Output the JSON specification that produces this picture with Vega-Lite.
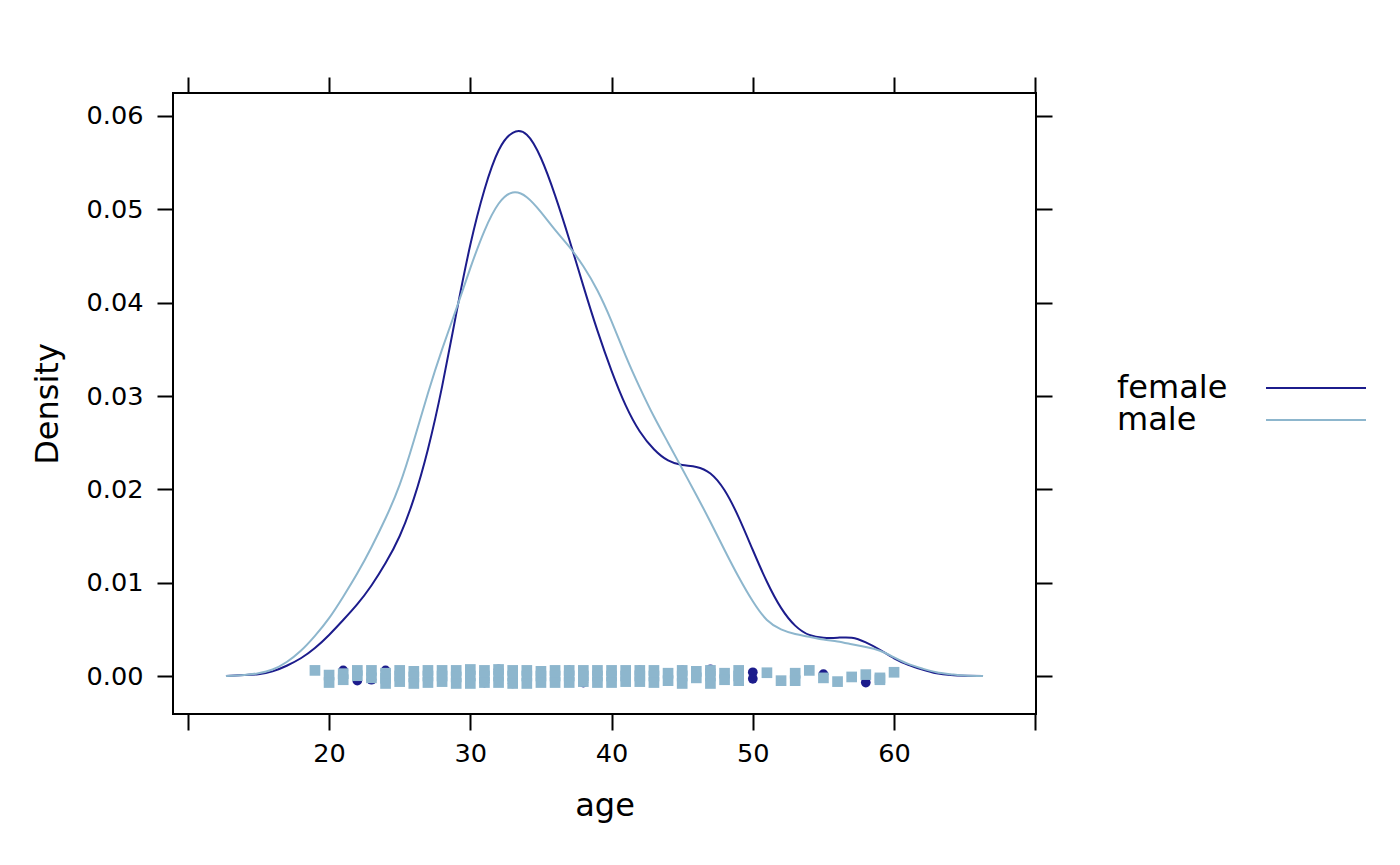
{
  "$schema": "https://vega.github.io/schema/vega-lite/v6.json",
  "width": 863,
  "height": 621,
  "autosize": {"type": "none"},
  "padding": {"left": 173, "top": 93, "right": 364, "bottom": 151},
  "background": "white",
  "config": {
    "font": "DejaVu Sans",
    "view": {"stroke": "black", "strokeWidth": 2},
    "axis": {
      "grid": false, "domain": false, "tickColor": "black", "tickWidth": 2, "tickSize": 16,
      "labelFont": "DejaVu Sans", "labelFontSize": 25.6, "labelColor": "black",
      "titleFont": "DejaVu Sans", "titleFontSize": 32, "titleFontWeight": "normal", "titleColor": "black"
    }
  },
  "datasets": {
    "density": [
      {"sex": "female", "age": 12.7, "density": 0},
      {"sex": "female", "age": 14, "density": 0.0001},
      {"sex": "female", "age": 15, "density": 0.0002},
      {"sex": "female", "age": 16, "density": 0.0005},
      {"sex": "female", "age": 17, "density": 0.0011},
      {"sex": "female", "age": 18, "density": 0.0019},
      {"sex": "female", "age": 19, "density": 0.003},
      {"sex": "female", "age": 20, "density": 0.0044},
      {"sex": "female", "age": 21, "density": 0.006},
      {"sex": "female", "age": 22, "density": 0.0077},
      {"sex": "female", "age": 23, "density": 0.0097},
      {"sex": "female", "age": 24, "density": 0.0121},
      {"sex": "female", "age": 25, "density": 0.015},
      {"sex": "female", "age": 26, "density": 0.019},
      {"sex": "female", "age": 27, "density": 0.0243},
      {"sex": "female", "age": 28, "density": 0.031},
      {"sex": "female", "age": 29, "density": 0.0388},
      {"sex": "female", "age": 30, "density": 0.0462},
      {"sex": "female", "age": 31, "density": 0.0521},
      {"sex": "female", "age": 32, "density": 0.0563},
      {"sex": "female", "age": 33, "density": 0.0582},
      {"sex": "female", "age": 34, "density": 0.058},
      {"sex": "female", "age": 35, "density": 0.0555},
      {"sex": "female", "age": 36, "density": 0.0515},
      {"sex": "female", "age": 37, "density": 0.0468},
      {"sex": "female", "age": 38, "density": 0.0418},
      {"sex": "female", "age": 39, "density": 0.037},
      {"sex": "female", "age": 40, "density": 0.0327},
      {"sex": "female", "age": 41, "density": 0.029},
      {"sex": "female", "age": 42, "density": 0.0262},
      {"sex": "female", "age": 43, "density": 0.0243},
      {"sex": "female", "age": 44, "density": 0.0231},
      {"sex": "female", "age": 45, "density": 0.0226},
      {"sex": "female", "age": 46, "density": 0.0224},
      {"sex": "female", "age": 47, "density": 0.0217},
      {"sex": "female", "age": 48, "density": 0.0199},
      {"sex": "female", "age": 49, "density": 0.017},
      {"sex": "female", "age": 50, "density": 0.0135},
      {"sex": "female", "age": 51, "density": 0.0101},
      {"sex": "female", "age": 52, "density": 0.0073},
      {"sex": "female", "age": 53, "density": 0.0054},
      {"sex": "female", "age": 54, "density": 0.0044},
      {"sex": "female", "age": 55, "density": 0.0041},
      {"sex": "female", "age": 56, "density": 0.0041},
      {"sex": "female", "age": 57, "density": 0.0041},
      {"sex": "female", "age": 58, "density": 0.0036},
      {"sex": "female", "age": 59, "density": 0.0028},
      {"sex": "female", "age": 60, "density": 0.0019},
      {"sex": "female", "age": 61, "density": 0.0012},
      {"sex": "female", "age": 62, "density": 0.0007},
      {"sex": "female", "age": 63, "density": 0.0003},
      {"sex": "female", "age": 64, "density": 0.0001},
      {"sex": "female", "age": 65, "density": 0.00003},
      {"sex": "female", "age": 66.3, "density": 0},
      {"sex": "male", "age": 12.7, "density": 0},
      {"sex": "male", "age": 14, "density": 0.0001},
      {"sex": "male", "age": 15, "density": 0.0003},
      {"sex": "male", "age": 16, "density": 0.0007},
      {"sex": "male", "age": 17, "density": 0.0015},
      {"sex": "male", "age": 18, "density": 0.0027},
      {"sex": "male", "age": 19, "density": 0.0043},
      {"sex": "male", "age": 20, "density": 0.0062},
      {"sex": "male", "age": 21, "density": 0.0085},
      {"sex": "male", "age": 22, "density": 0.011},
      {"sex": "male", "age": 23, "density": 0.0138},
      {"sex": "male", "age": 24, "density": 0.0169},
      {"sex": "male", "age": 25, "density": 0.0205},
      {"sex": "male", "age": 26, "density": 0.0252},
      {"sex": "male", "age": 27, "density": 0.0303},
      {"sex": "male", "age": 28, "density": 0.035},
      {"sex": "male", "age": 29, "density": 0.0393},
      {"sex": "male", "age": 30, "density": 0.0437},
      {"sex": "male", "age": 31, "density": 0.0477},
      {"sex": "male", "age": 32, "density": 0.0506},
      {"sex": "male", "age": 33, "density": 0.0518},
      {"sex": "male", "age": 34, "density": 0.0513},
      {"sex": "male", "age": 35, "density": 0.0497},
      {"sex": "male", "age": 36, "density": 0.0478},
      {"sex": "male", "age": 37, "density": 0.046},
      {"sex": "male", "age": 38, "density": 0.0439},
      {"sex": "male", "age": 39, "density": 0.0413},
      {"sex": "male", "age": 40, "density": 0.038},
      {"sex": "male", "age": 41, "density": 0.0343},
      {"sex": "male", "age": 42, "density": 0.0309},
      {"sex": "male", "age": 43, "density": 0.0278},
      {"sex": "male", "age": 44, "density": 0.025},
      {"sex": "male", "age": 45, "density": 0.0222},
      {"sex": "male", "age": 46, "density": 0.0194},
      {"sex": "male", "age": 47, "density": 0.0165},
      {"sex": "male", "age": 48, "density": 0.0135},
      {"sex": "male", "age": 49, "density": 0.0106},
      {"sex": "male", "age": 50, "density": 0.008},
      {"sex": "male", "age": 51, "density": 0.006},
      {"sex": "male", "age": 52, "density": 0.005},
      {"sex": "male", "age": 53, "density": 0.0045},
      {"sex": "male", "age": 54, "density": 0.0042},
      {"sex": "male", "age": 55, "density": 0.0039},
      {"sex": "male", "age": 56, "density": 0.0037},
      {"sex": "male", "age": 57, "density": 0.0034},
      {"sex": "male", "age": 58, "density": 0.0031},
      {"sex": "male", "age": 59, "density": 0.0027},
      {"sex": "male", "age": 60, "density": 0.002},
      {"sex": "male", "age": 61, "density": 0.0013},
      {"sex": "male", "age": 62, "density": 0.0008},
      {"sex": "male", "age": 63, "density": 0.0004},
      {"sex": "male", "age": 64, "density": 0.0002},
      {"sex": "male", "age": 65, "density": 0.00005},
      {"sex": "male", "age": 66.3, "density": 0}
    ],
    "points": [
      {"sex": "female", "age": 21, "jitter": 0.0006},
      {"sex": "female", "age": 22, "jitter": -0.0005},
      {"sex": "female", "age": 23, "jitter": -0.0004},
      {"sex": "female", "age": 24, "jitter": 0.0006},
      {"sex": "female", "age": 31, "jitter": -0.0007},
      {"sex": "female", "age": 32, "jitter": 0.0007},
      {"sex": "female", "age": 33, "jitter": -0.0008},
      {"sex": "female", "age": 37, "jitter": 0.0006},
      {"sex": "female", "age": 38, "jitter": -0.0007},
      {"sex": "female", "age": 42, "jitter": 0.0006},
      {"sex": "female", "age": 45, "jitter": 0.0006},
      {"sex": "female", "age": 47, "jitter": 0.0007},
      {"sex": "female", "age": 50, "jitter": 0.0004},
      {"sex": "female", "age": 50, "jitter": -0.0003},
      {"sex": "female", "age": 55, "jitter": 0.0002},
      {"sex": "female", "age": 58, "jitter": -0.0007},
      {"sex": "male", "age": 19, "jitter": 0.0006},
      {"sex": "male", "age": 20, "jitter": 0.0001},
      {"sex": "male", "age": 20, "jitter": -0.0007},
      {"sex": "male", "age": 21, "jitter": 0.00025},
      {"sex": "male", "age": 21, "jitter": -0.0004},
      {"sex": "male", "age": 22, "jitter": 0.0006},
      {"sex": "male", "age": 22, "jitter": 0.00003},
      {"sex": "male", "age": 23, "jitter": 0.0006},
      {"sex": "male", "age": 23, "jitter": -0.0002},
      {"sex": "male", "age": 24, "jitter": 0.0003},
      {"sex": "male", "age": 24, "jitter": -0.00025},
      {"sex": "male", "age": 24, "jitter": -0.0008},
      {"sex": "male", "age": 25, "jitter": 0.0006},
      {"sex": "male", "age": 25, "jitter": 0},
      {"sex": "male", "age": 25, "jitter": -0.0006},
      {"sex": "male", "age": 26, "jitter": 0.0005},
      {"sex": "male", "age": 26, "jitter": -0.0001},
      {"sex": "male", "age": 26, "jitter": -0.0008},
      {"sex": "male", "age": 27, "jitter": 0.0006},
      {"sex": "male", "age": 27, "jitter": 0},
      {"sex": "male", "age": 27, "jitter": -0.0007},
      {"sex": "male", "age": 28, "jitter": 0.0006},
      {"sex": "male", "age": 28, "jitter": 0},
      {"sex": "male", "age": 28, "jitter": -0.0006},
      {"sex": "male", "age": 29, "jitter": 0.0006},
      {"sex": "male", "age": 29, "jitter": -0.0001},
      {"sex": "male", "age": 29, "jitter": -0.0008},
      {"sex": "male", "age": 30, "jitter": 0.0007},
      {"sex": "male", "age": 30, "jitter": 0},
      {"sex": "male", "age": 30, "jitter": -0.0008},
      {"sex": "male", "age": 31, "jitter": 0.0006},
      {"sex": "male", "age": 31, "jitter": 0},
      {"sex": "male", "age": 31, "jitter": -0.0007},
      {"sex": "male", "age": 32, "jitter": 0.0007},
      {"sex": "male", "age": 32, "jitter": 0},
      {"sex": "male", "age": 32, "jitter": -0.0007},
      {"sex": "male", "age": 33, "jitter": 0.0006},
      {"sex": "male", "age": 33, "jitter": 0},
      {"sex": "male", "age": 33, "jitter": -0.0008},
      {"sex": "male", "age": 34, "jitter": 0.0006},
      {"sex": "male", "age": 34, "jitter": 0},
      {"sex": "male", "age": 34, "jitter": -0.0008},
      {"sex": "male", "age": 35, "jitter": 0.0005},
      {"sex": "male", "age": 35, "jitter": 0},
      {"sex": "male", "age": 35, "jitter": -0.0007},
      {"sex": "male", "age": 36, "jitter": 0.0006},
      {"sex": "male", "age": 36, "jitter": 0},
      {"sex": "male", "age": 36, "jitter": -0.0007},
      {"sex": "male", "age": 37, "jitter": 0.0006},
      {"sex": "male", "age": 37, "jitter": 0},
      {"sex": "male", "age": 37, "jitter": -0.0007},
      {"sex": "male", "age": 38, "jitter": 0.0006},
      {"sex": "male", "age": 38, "jitter": 0},
      {"sex": "male", "age": 38, "jitter": -0.0006},
      {"sex": "male", "age": 39, "jitter": 0.0006},
      {"sex": "male", "age": 39, "jitter": 0},
      {"sex": "male", "age": 39, "jitter": -0.0007},
      {"sex": "male", "age": 40, "jitter": 0.0006},
      {"sex": "male", "age": 40, "jitter": 0},
      {"sex": "male", "age": 40, "jitter": -0.0007},
      {"sex": "male", "age": 41, "jitter": 0.0006},
      {"sex": "male", "age": 41, "jitter": 0},
      {"sex": "male", "age": 41, "jitter": -0.0006},
      {"sex": "male", "age": 42, "jitter": 0.0006},
      {"sex": "male", "age": 42, "jitter": 0},
      {"sex": "male", "age": 42, "jitter": -0.0006},
      {"sex": "male", "age": 43, "jitter": 0.0006},
      {"sex": "male", "age": 43, "jitter": 0},
      {"sex": "male", "age": 43, "jitter": -0.0007},
      {"sex": "male", "age": 44, "jitter": 0.0003},
      {"sex": "male", "age": 44, "jitter": -0.0005},
      {"sex": "male", "age": 45, "jitter": 0.0006},
      {"sex": "male", "age": 45, "jitter": 0},
      {"sex": "male", "age": 45, "jitter": -0.0008},
      {"sex": "male", "age": 46, "jitter": 0.0005},
      {"sex": "male", "age": 46, "jitter": -0.0002},
      {"sex": "male", "age": 47, "jitter": 0.0006},
      {"sex": "male", "age": 47, "jitter": 0},
      {"sex": "male", "age": 47, "jitter": -0.0008},
      {"sex": "male", "age": 48, "jitter": 0.0003},
      {"sex": "male", "age": 48, "jitter": -0.0004},
      {"sex": "male", "age": 49, "jitter": 0.0006},
      {"sex": "male", "age": 49, "jitter": 0},
      {"sex": "male", "age": 49, "jitter": -0.0005},
      {"sex": "male", "age": 51, "jitter": 0.00035},
      {"sex": "male", "age": 52, "jitter": -0.0005},
      {"sex": "male", "age": 53, "jitter": 0.0003},
      {"sex": "male", "age": 53, "jitter": -0.0005},
      {"sex": "male", "age": 54, "jitter": 0.0006},
      {"sex": "male", "age": 55, "jitter": -0.0002},
      {"sex": "male", "age": 56, "jitter": -0.0006},
      {"sex": "male", "age": 57, "jitter": -0.0001},
      {"sex": "male", "age": 58, "jitter": 0.00015},
      {"sex": "male", "age": 59, "jitter": -0.0002},
      {"sex": "male", "age": 59, "jitter": -0.0004},
      {"sex": "male", "age": 60, "jitter": 0.0004}
    ]
  },
  "layer": [
    {
      "data": {"name": "density"},
      "mark": {"type": "line", "strokeWidth": 2, "interpolate": "natural"},
      "encoding": {
        "x": {
          "field": "age", "type": "quantitative",
          "scale": {"domain": [8.95, 70.05], "nice": false, "zero": false},
          "axis": {
            "orient": "bottom", "values": [10, 20, 30, 40, 50, 60, 70], "format": "d",
            "labelExpr": "datum.value == 10 || datum.value == 70 ? '' : datum.label",
            "labelPadding": 11, "labelFlush": false, "labelOverlap": false,
            "title": "age", "titlePadding": 24
          }
        },
        "y": {
          "field": "density", "type": "quantitative",
          "scale": {"domain": [-0.004071, 0.062464], "nice": false, "zero": false},
          "axis": {
            "orient": "left", "values": [0, 0.01, 0.02, 0.03, 0.04, 0.05, 0.06], "format": ".2f",
            "labelPadding": 14, "labelFlush": false, "labelOverlap": false,
            "title": "Density", "titlePadding": 22
          }
        },
        "color": {
          "field": "sex", "type": "nominal",
          "scale": {"domain": ["female", "male"], "range": ["#1C1C8C", "#8DB6CD"]},
          "legend": {
            "orient": "none", "legendX": 1127, "legendY": 279, "title": null,
            "symbolType": "M-10,0L10,0", "symbolSize": 100, "symbolStrokeWidth": 2,
            "rowPadding": 0, "padding": 0, "labelOffset": -215,
            "labelFont": "DejaVu Sans", "labelFontSize": 32, "labelColor": "black", "labelLimit": 0
          }
        }
      }
    },
    {
      "data": {"name": "points"},
      "transform": [{"filter": "datum.sex == 'female'"}],
      "mark": {"type": "point", "shape": "circle", "filled": true, "size": 95, "color": "#1C1C8C", "opacity": 1},
      "encoding": {
        "x": {
          "field": "age", "type": "quantitative",
          "axis": {"orient": "top", "values": [10, 20, 30, 40, 50, 60, 70], "labels": false, "title": null}
        },
        "y": {
          "field": "jitter", "type": "quantitative",
          "axis": {"orient": "right", "values": [0, 0.01, 0.02, 0.03, 0.04, 0.05, 0.06], "labels": false, "title": null}
        }
      }
    },
    {
      "data": {"name": "points"},
      "transform": [{"filter": "datum.sex == 'male'"}],
      "mark": {"type": "point", "shape": "square", "filled": true, "size": 114, "color": "#8DB6CD", "opacity": 1},
      "encoding": {
        "x": {"field": "age", "type": "quantitative", "axis": null},
        "y": {"field": "jitter", "type": "quantitative", "axis": null}
      }
    }
  ],
  "resolve": {"axis": {"x": "independent", "y": "independent"}}
}
